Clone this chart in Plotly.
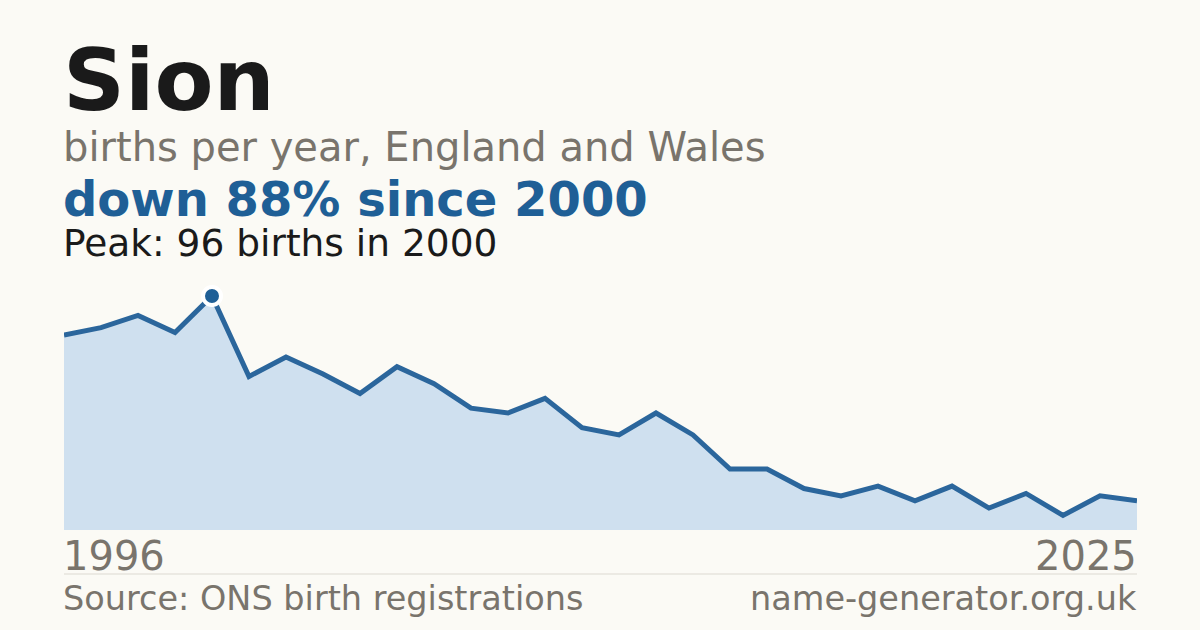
import plotly.graph_objects as go

# births per year for the name
years = list(range(1996, 2026))
births = [80, 83, 88, 81, 96, 63, 71, 64, 56, 67,
          60, 50, 48, 54, 42, 39, 48, 39, 25, 25,
          17, 14, 18, 12, 18, 9, 15, 6, 14, 12]

peak_year = 2000
peak_value = 96

name = "Sion"
subtitle = "births per year, England and Wales"
headline = "down 88% since 2000"
peak_text = "Peak: 96 births in 2000"
source_text = "Source: ONS birth registrations"
site_text = "name-generator.org.uk"

bg = "#fbfaf5"
blue = "#1f5f96"
grey = "#79746c"
font = "DejaVu Sans"

# plot area in pixels: top 296, bottom 530
top, bottom = 296, 530


def py(pix):
    # pixel row -> paper y
    return (bottom - pix) / (bottom - top)


fig = go.Figure()

fig.add_trace(go.Scatter(
    x=years, y=births,
    mode="lines",
    line=dict(color="#2b669c", width=5),
    fill="tozeroy",
    fillcolor="#cfe0ef",
    hoverinfo="skip",
    cliponaxis=False,
))

fig.add_trace(go.Scatter(
    x=[peak_year], y=[peak_value],
    mode="markers",
    marker=dict(size=18, color=blue, line=dict(color="white", width=4)),
    hoverinfo="skip",
    cliponaxis=False,
))

annotations = [
    dict(text="<b>%s</b>" % name, x=0, y=py(80), font=dict(size=86, color="#1a1a1a")),
    dict(text=subtitle, x=0, y=py(147), font=dict(size=40, color=grey)),
    dict(text="<b>%s</b>" % headline, x=0, y=py(199), height=54,
         font=dict(size=48, color=blue)),
    dict(text=peak_text, x=0, y=py(243), height=42,
         font=dict(size=37.5, color="#1a1a1a")),
    dict(text=source_text, x=0, y=py(598), font=dict(size=33.5, color=grey)),
    dict(text=site_text, x=1, y=py(598), xanchor="right", xshift=2,
         font=dict(size=33.5, color=grey)),
]
for a in annotations:
    a.setdefault("xanchor", "left")
    a.setdefault("xshift", -3)
    a.update(xref="paper", yref="paper", yanchor="middle", showarrow=False)

# first and last year under the axis
for yr, anchor, shift in [(years[0], "left", -3), (years[-1], "right", 2)]:
    annotations.append(dict(text=str(yr), x=yr, xref="x", xanchor=anchor, xshift=shift,
                            y=py(556), yref="paper", yanchor="middle", showarrow=False,
                            font=dict(size=40, color=grey)))

fig.update_layout(
    width=1200, height=630,
    margin=dict(l=64, r=63, t=top, b=630 - bottom),
    paper_bgcolor=bg, plot_bgcolor=bg,
    showlegend=False,
    font=dict(family=font),
    xaxis=dict(range=[years[0], years[-1]], visible=False, fixedrange=True),
    yaxis=dict(range=[0, peak_value], visible=False, fixedrange=True),
    annotations=annotations,
    shapes=[dict(type="line", xref="paper", yref="paper", x0=0, x1=1,
                 y0=py(574), y1=py(574), line=dict(color="#dcd9d1", width=1))],
)

fig.write_html("out.html", config={"displayModeBar": False},
               post_script="document.body.style.margin='0';"
                           "document.body.style.background='%s';" % bg)
